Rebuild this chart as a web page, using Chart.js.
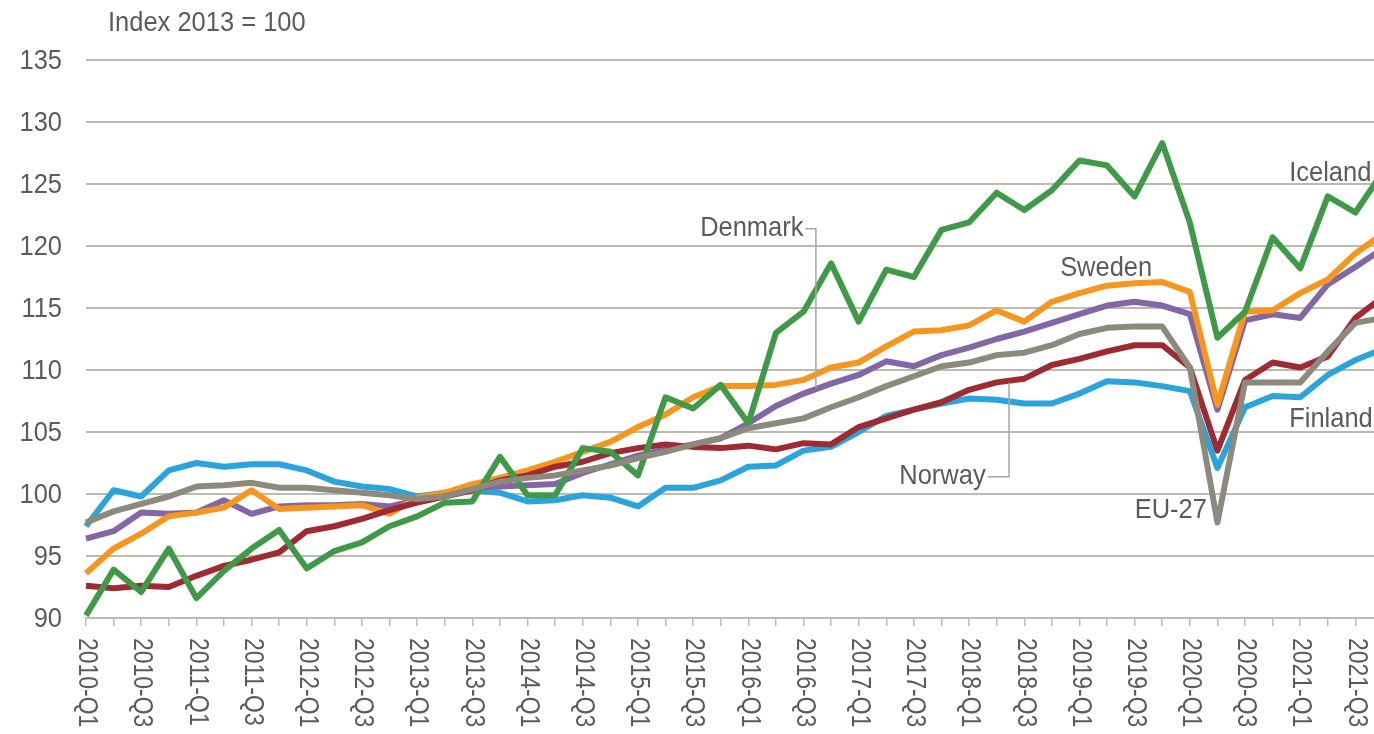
<!DOCTYPE html>
<html>
<head>
<meta charset="utf-8">
<script src="https://cdn.jsdelivr.net/npm/chart.js@4/dist/chart.umd.min.js"></script>
<style>
  html, body { margin: 0; padding: 0; background: #fff; overflow: hidden; }
  #wrap { width: 1374px; height: 734px; overflow: hidden; }
</style>
</head>
<body>
<div id="wrap"><canvas id="priceChart" width="1400" height="734"></canvas></div>
<script>
// quarters 2010-Q1 .. 2021-Q4
const quarters = [];
for (let y = 2010; y <= 2021; y++) {
    for (let q = 1; q <= 4; q++) quarters.push(y + '-Q' + q);
}

const iceland = [90.2, 93.9, 92.1, 95.6, 91.6, 93.8, 95.6, 97.1, 94.0, 95.4, 96.1, 97.4,
    98.2, 99.3, 99.4, 103.0, 99.9, 99.9, 103.7, 103.4, 101.5, 107.8, 106.9, 108.8,
    105.7, 113.0, 114.7, 118.6, 113.9, 118.1, 117.5, 121.3, 121.9, 124.3, 122.9, 124.5,
    126.9, 126.5, 124.0, 128.3, 121.9, 112.6, 114.7, 120.7, 118.2, 124.0, 122.7, 126.0];

const sweden = [93.6, 95.6, 96.8, 98.2, 98.5, 98.9, 100.3, 98.8, 98.9, 99.0, 99.1, 98.4,
    99.7, 100.1, 100.8, 101.3, 101.9, 102.6, 103.4, 104.2, 105.4, 106.4, 107.8, 108.7,
    108.7, 108.8, 109.2, 110.2, 110.6, 111.9, 113.1, 113.2, 113.6, 114.8, 113.9, 115.5,
    116.2, 116.8, 117.0, 117.1, 116.3, 107.2, 114.7, 114.8, 116.2, 117.3, 119.4, 121.0];

const denmark = [96.4, 97.0, 98.5, 98.4, 98.5, 99.5, 98.4, 99.0, 99.1, 99.1, 99.2, 99.0,
    99.5, 99.9, 100.5, 100.6, 100.7, 100.8, 101.7, 102.4, 103.1, 103.6, 104.0, 104.5,
    105.7, 107.1, 108.1, 108.9, 109.6, 110.7, 110.3, 111.2, 111.8, 112.5, 113.1, 113.8,
    114.5, 115.2, 115.5, 115.2, 114.5, 106.8, 114.0, 114.5, 114.2, 116.9, 118.3, 119.8];

const eu27 = [97.7, 98.6, 99.2, 99.8, 100.6, 100.7, 100.9, 100.5, 100.5, 100.3, 100.1, 99.9,
    99.6, 99.8, 100.4, 101.0, 101.3, 101.5, 101.9, 102.3, 102.9, 103.4, 104.0, 104.5,
    105.3, 105.7, 106.1, 107.0, 107.8, 108.7, 109.5, 110.3, 110.6, 111.2, 111.4, 112.0,
    112.9, 113.4, 113.5, 113.5, 110.2, 97.7, 109.0, 109.0, 109.0, 111.5, 113.8, 114.2];

const norway = [92.6, 92.4, 92.6, 92.5, 93.4, 94.2, 94.7, 95.3, 97.0, 97.4, 98.0, 98.7,
    99.3, 99.8, 100.3, 101.1, 101.5, 102.2, 102.6, 103.3, 103.7, 104.0, 103.8, 103.7,
    103.9, 103.6, 104.1, 104.0, 105.4, 106.1, 106.8, 107.4, 108.4, 109.0, 109.3, 110.4,
    110.9, 111.5, 112.0, 112.0, 110.2, 103.5, 109.2, 110.6, 110.2, 111.1, 114.2, 115.9];

const finland = [97.4, 100.3, 99.8, 101.9, 102.5, 102.2, 102.4, 102.4, 101.9, 101.0, 100.6, 100.4,
    99.8, 100.1, 100.3, 100.1, 99.4, 99.5, 99.9, 99.7, 99.0, 100.5, 100.5, 101.1,
    102.2, 102.3, 103.5, 103.8, 105.0, 106.3, 106.8, 107.3, 107.7, 107.6, 107.3, 107.3,
    108.1, 109.1, 109.0, 108.7, 108.3, 102.1, 107.0, 107.9, 107.8, 109.6, 110.8, 111.7];

const yTicks = [90, 95, 100, 105, 110, 115, 120, 125, 130, 135];

// series labels placed on the chart: [text, quarter index, value, align]
const seriesLabels = [
    ['Denmark', 26.0, 121.45, 'right'],
    ['Sweden', 35.3, 118.2, 'left'],
    ['Iceland', 43.6, 125.9, 'left'],
    ['Finland', 43.6, 106.0, 'left'],
    ['Norway', 32.6, 101.4, 'right'],
    ['EU-27', 38.0, 98.7, 'left']
];
// leader lines: [from index, from value, corner index, target value]
const leaders = [
    [26.0, 121.4, 26.45, 108.55],
    [32.6, 101.4, 33.45, 109.0]
];

// no narrow font installed, so squeeze Liberation Sans horizontally
const FONT = '28px "Liberation Sans", Arial, sans-serif';
const SQUEEZE = 0.91;
const SQUEEZE_ROT = 0.82;
const TEXT = '#5b5b5b';
const GRID = '#bdbab0';

function narrowText(ctx, text, x, y, align, angle) {
    ctx.save();
    ctx.translate(x, y);
    if (angle) ctx.rotate(angle);
    ctx.scale(angle ? SQUEEZE_ROT : SQUEEZE, 1);
    ctx.textAlign = align;
    ctx.fillText(text, 0, 0);
    ctx.restore();
}

const overlay = {
    id: 'overlay',
    afterDraw(chart) {
        const ctx = chart.ctx;
        const xs = chart.scales.x;
        const ys = chart.scales.y;
        ctx.save();
        ctx.fillStyle = TEXT;
        ctx.font = FONT;
        ctx.textBaseline = 'middle';

        // y tick labels
        for (const v of yTicks) {
            narrowText(ctx, String(v), 62, ys.getPixelForValue(v) + 1, 'right');
        }

        // rotated quarter labels, every second one
        for (let i = 0; i < quarters.length; i += 2) {
            narrowText(ctx, quarters[i], xs.getPixelForValue(i) + 1, ys.bottom + 20, 'left', Math.PI / 2);
        }

        // unit note
        narrowText(ctx, 'Index 2013 = 100', 108, 23, 'left');

        // leader lines
        ctx.strokeStyle = '#a9a79b';
        ctx.lineWidth = 1.5;
        for (const l of leaders) {
            ctx.beginPath();
            ctx.moveTo(xs.getPixelForValue(l[0]) + 2, ys.getPixelForValue(l[1]));
            ctx.lineTo(xs.getPixelForValue(l[2]), ys.getPixelForValue(l[1]));
            ctx.lineTo(xs.getPixelForValue(l[2]), ys.getPixelForValue(l[3]));
            ctx.stroke();
        }

        // series names
        for (const s of seriesLabels) {
            narrowText(ctx, s[0], xs.getPixelForValue(s[1]), ys.getPixelForValue(s[2]), s[3]);
        }
        ctx.restore();
    }
};

function line(label, data, color, order) {
    return {
        label: label,
        data: data,
        borderColor: color,
        backgroundColor: color,
        borderWidth: 6,
        pointRadius: 0,
        tension: 0,
        borderJoinStyle: 'round',
        fill: false,
        order: order
    };
}

const ctx = document.getElementById('priceChart');
new Chart(ctx, {
    type: 'line',
    data: {
        labels: quarters,
        datasets: [
            line('EU-27', eu27, '#8c8a7e', 0),
            line('Iceland', iceland, '#3f9a48', 1),
            line('Norway', norway, '#9e2a32', 2),
            line('Sweden', sweden, '#f6961f', 3),
            line('Denmark', denmark, '#8266a5', 4),
            line('Finland', finland, '#2aa4dc', 5)
        ]
    },
    options: {
        responsive: false,
        animation: false,
        devicePixelRatio: 1,
        layout: { padding: { top: 60, right: 17, left: 0, bottom: 0 } },
        plugins: {
            legend: { display: false },
            tooltip: { enabled: false }
        },
        scales: {
            x: {
                offset: false,
                afterFit: (scale) => { scale.height = 116; },
                grid: {
                    drawOnChartArea: false,
                    drawTicks: true,
                    tickLength: 8,
                    color: GRID,
                    lineWidth: 1.5
                },
                border: { display: true, color: GRID, width: 2 },
                ticks: { display: false, autoSkip: false }
            },
            y: {
                min: 90,
                max: 135,
                afterFit: (scale) => { scale.width = 86; },
                afterBuildTicks: (scale) => { scale.ticks = yTicks.map(v => ({ value: v })); },
                grid: { color: GRID, lineWidth: 2, drawTicks: false },
                border: { display: false },
                ticks: { display: false }
            }
        }
    },
    plugins: [overlay]
});
</script>
</body>
</html>
